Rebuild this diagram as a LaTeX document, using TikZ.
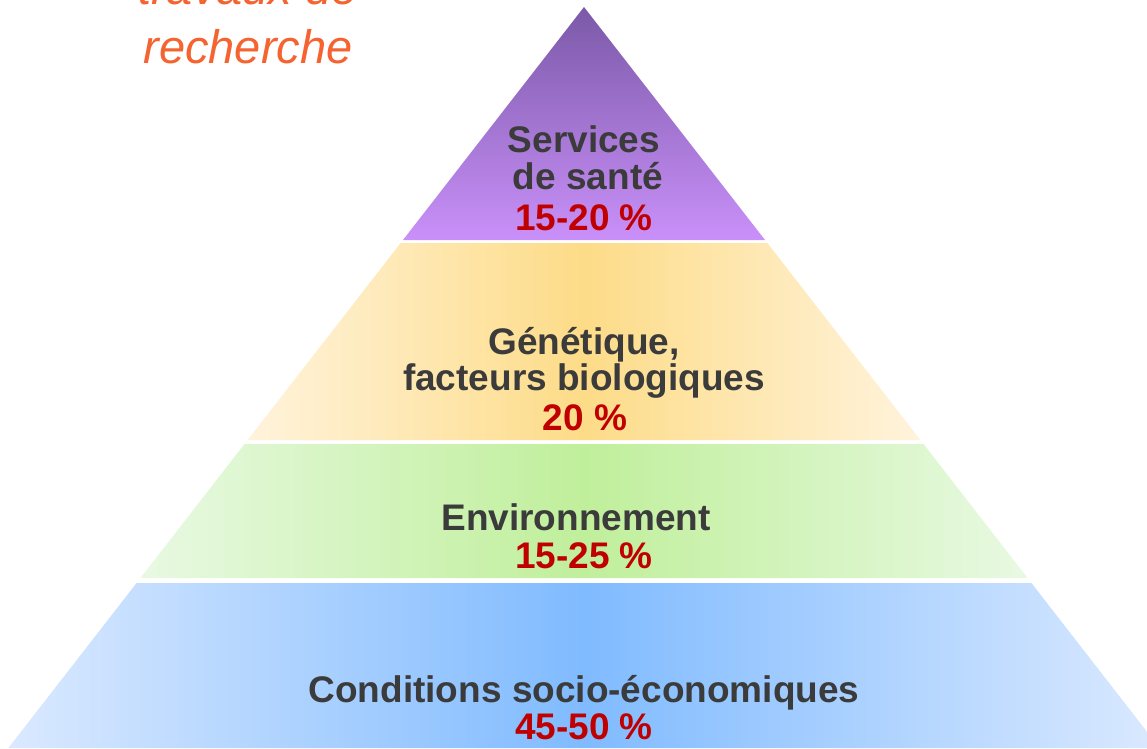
\documentclass[tikz,border=0pt]{standalone}
\usepackage{fontspec}
\setmainfont{Liberation Sans}

\definecolor{namegray}{HTML}{3B3B3B}
\definecolor{sharered}{HTML}{C00000}
\definecolor{noteorange}{HTML}{F46330}
\definecolor{violettop}{HTML}{7B59A8}
\definecolor{violetbottom}{HTML}{C990F9}
\definecolor{yellowin}{HTML}{FDDC88}
\definecolor{yellowout}{HTML}{FFF3DC}
\definecolor{greenin}{HTML}{C0EF9B}
\definecolor{greenout}{HTML}{E8F9E2}
\definecolor{bluein}{HTML}{80BBFF}
\definecolor{blueout}{HTML}{DAE9FF}

\tikzset{
  layername/.style={anchor=base, inner sep=0pt, text=namegray, font=\bfseries\fontsize{37}{37}\selectfont},
  layershare/.style={anchor=base, inner sep=0pt, text=sharered, font=\bfseries\fontsize{37}{37}\selectfont},
  note/.style={anchor=base, inner sep=0pt, text=noteorange, font=\itshape\fontsize{47}{47}\selectfont},
  glow/.style={left color=#1out, right color=#1out, middle color=#1in},
}

\begin{document}
\begin{tikzpicture}[x=1pt,y=-1pt]
  \useasboundingbox (0,0) rectangle (1147,748);
  \clip (0,0) rectangle (1147,748);
  \fill[white] (0,0) rectangle (1147,748);

  % pyramid layers, apex at (584,7)
  \coordinate (apex) at (584,7);
  \shade[top color=violettop, bottom color=violetbottom] (apex) -- (765,240) -- (403,240) -- cycle;
  \shade[glow=yellow] (400.7,243) -- (767.3,243) -- (920.4,440) -- (247.6,440) -- cycle;
  \shade[glow=green] (244.5,444) -- (923.5,444) -- (1027.5,578) -- (140.5,578) -- cycle;
  \shade[glow=blue] (136.6,583) -- (1031.4,583) -- (1159.6,748) -- (8.4,748) -- cycle;

  % note in the corner
  \node[note] (travaux) at (248,4) {travaux de};
  \node[note] (recherche) at (248,63) {recherche};

  % labels
  \node[layername] (services) at (584,152) {Services};
  \node[layername] (sante) at (588,189) {de santé};
  \node[layershare] (santeshare) at (584,230) {15-20 \%};

  \node[layername] (genetique) at (584,354) {Génétique,};
  \node[layername] (biologie) at (584,390) {facteurs biologiques};
  \node[layershare] (biologieshare) at (585,430) {20 \%};

  \node[layername] (environnement) at (576,530) {Environnement};
  \node[layershare] (environnementshare) at (584,568) {15-25 \%};

  \node[layername] (conditions) at (584,702) {Conditions socio-économiques};
  \node[layershare] (conditionsshare) at (584,739) {45-50 \%};
\end{tikzpicture}
\end{document}
